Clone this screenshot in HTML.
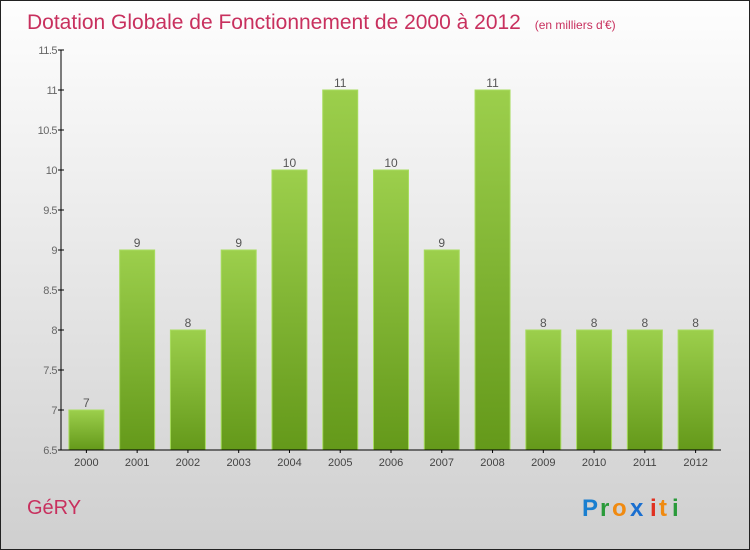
<!DOCTYPE html>
<html><head><meta charset="utf-8"><style>
body{margin:0;width:750px;height:550px;overflow:hidden}
svg{display:block;font-family:"Liberation Sans",sans-serif}
</style></head><body>
<svg id="c" width="750" height="550" viewBox="0 0 750 550">
<defs>
<linearGradient id="bg" x1="0" y1="0" x2="0" y2="1"><stop offset="0" stop-color="#fefefe"/><stop offset="1" stop-color="#cfcfcf"/></linearGradient>
<linearGradient id="bar" x1="0" y1="0" x2="0" y2="1"><stop offset="0" stop-color="#9ccf4c"/><stop offset="1" stop-color="#64991a"/></linearGradient>
</defs>
<rect x="0.5" y="0.5" width="749" height="549" fill="url(#bg)" stroke="#222"/>
<text x="27" y="29" font-size="21" fill="#c8305e">Dotation Globale de Fonctionnement de 2000 à 2012 <tspan font-size="12" dx="8">(en milliers d'€)</tspan></text>
<text x="27" y="514" font-size="20" fill="#c8305e">GéRY</text>
<g font-size="24" font-weight="bold">
<text x="582" y="516" fill="#1a7fd0">P</text><text x="600" y="516" fill="#2a9a3a">r</text><text x="612" y="516" fill="#f08a10">o</text><text x="630" y="516" fill="#1a6fd0">x</text><text x="650" y="516" fill="#e03020">i</text><text x="659" y="516" fill="#f08a10">t</text><text x="672" y="516" fill="#2a9a3a">i</text>
</g>
<g id="plot"></g>
</svg>
<script>
const categories=["2000","2001","2002","2003","2004","2005","2006","2007","2008","2009","2010","2011","2012"];
const values=[7,9,8,9,10,11,10,9,11,8,8,8,8];
const valueLabels=["7","9","8","9","10","11","10","9","11","8","8","8","8"];
const yTicks=[6.5,7,7.5,8,8.5,9,9.5,10,10.5,11,11.5];
const yTickLabels=["6.5","7","7.5","8","8.5","9","9.5","10","10.5","11","11.5"];
const NS="http://www.w3.org/2000/svg";
const g=document.getElementById('plot');
const x0=61,x1=721,yTop=50,yBot=450,ymin=6.5,ymax=11.5;
const y=v=>yBot-(v-ymin)/(ymax-ymin)*(yBot-yTop);
const step=(x1-x0)/categories.length;
const xc=i=>x0+step*(i+0.5);
function mk(t,a){const e=document.createElementNS(NS,t);for(const k in a)e.setAttribute(k,a[k]);g.appendChild(e);return e;}
yTicks.forEach((v,i)=>{
 const l=mk('line',{x1:x0-3,x2:x0+3,y1:y(v),y2:y(v),stroke:'#000'});
 
 
 const t=mk('text',{x:x0-4,y:y(v)+4,'font-size':11,fill:'#666','text-anchor':'end','letter-spacing':'-0.5'});
 t.textContent=yTickLabels[i];
 
 
});
values.forEach((v,i)=>{
 const b=mk('rect',{x:xc(i)-17.5,y:y(v),width:35,height:yBot-y(v),fill:'url(#bar)',stroke:'#a8dc60','stroke-width':1});
 
 
 const t=mk('text',{x:xc(i),y:y(v)-3,'font-size':12,fill:'#555','text-anchor':'middle'});
 t.textContent=valueLabels[i];
 
 
 const c=mk('text',{x:xc(i),y:466,'font-size':11,fill:'#444','text-anchor':'middle'});
 c.textContent=categories[i];
 
 
 const tk=mk('line',{x1:xc(i),x2:xc(i),y1:yBot,y2:yBot+3,stroke:'#000'});
 
 
});
const ya=mk('line',{x1:x0,x2:x0,y1:yTop,y2:yBot,stroke:'#000'});


const xa=mk('line',{x1:x0,x2:x1,y1:yBot,y2:yBot,stroke:'#000'});


</script>
</body></html>
